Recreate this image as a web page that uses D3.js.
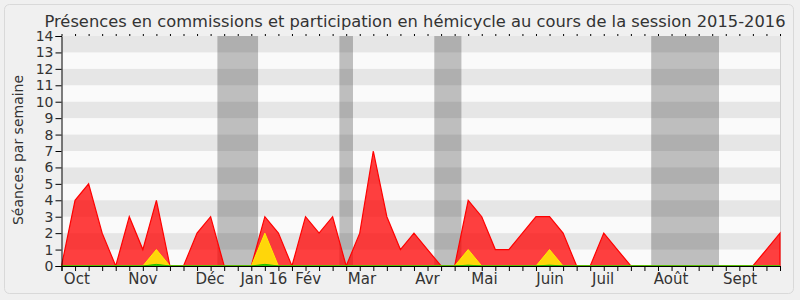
<!DOCTYPE html>
<html>
<head>
<meta charset="utf-8">
<script src="https://cdn.jsdelivr.net/npm/d3@7"></script>
<style>
  body { margin: 0; background: #f0f0f0; }
  svg { display: block; }
  text { font-family: "DejaVu Sans", sans-serif; fill: #333; }
</style>
</head>
<body>
<div id="chart"></div>
<script>
"use strict";

// one value per week, starting end of September 2015
const hemicycle = [0, 4, 5, 2, 0, 3, 1, 4, 0, 0, 2, 3, 0, 0, 0, 3, 2, 0, 3, 2, 3, 0, 2, 7, 3, 1, 2, 1, 0, 0, 4, 3, 1, 1, 2, 3, 3, 2, 0, 0, 2, 1, 0, 0, 0, 0, 0, 0, 0, 0, 0, 0, 1, 2];
const commission = [0, 0, 0, 0, 0, 0, 0, 1, 0, 0, 0, 0, 0, 0, 0, 2, 0, 0, 0, 0, 0, 0, 0, 0, 0, 0, 0, 0, 0, 0, 1, 0, 0, 0, 0, 0, 1, 0, 0, 0, 0, 0, 0, 0, 0, 0, 0, 0, 0, 0, 0, 0, 0, 0];
const questions = [0, 0, 0, 0, 0, 0, 0, 0.1, 0, 0, 0, 0, 0, 0, 0, 0.1, 0, 0, 0, 0, 0, 0, 0, 0, 0, 0, 0, 0, 0, 0, 0.05, 0, 0, 0, 0, 0, 0.05, 0, 0, 0, 0, 0, 0, 0, 0, 0, 0, 0, 0, 0, 0, 0, 0, 0];

// parliamentary holidays (week index)
const vacStart = [11.5, 20.5, 27.5, 43.5];
const vacEnd = [14.5, 21.5, 29.5, 48.5];

const monthLabels = ["Oct", "Nov", "Déc", "Jan 16", "Fév", "Mar", "Avr", "Mai", "Juin", "Juil", "Août", "Sept"];
const monthPos = [1.13, 6.0, 10.95, 14.93, 18.2, 22.16, 27.0, 31.2, 36.04, 39.95, 44.97, 50.06];

const W = 800;
const H = 300;
const pLeft = 61.5, pRight = 780, pTop = 36, pBottom = 266;

const svg = d3.select("#chart").append("svg")
  .attr("width", W)
  .attr("height", H);

svg.append("rect")
  .attr("x", 4.5).attr("y", 4.5)
  .attr("width", 789).attr("height", 289)
  .attr("rx", 5)
  .attr("fill", "#f0f0f0")
  .attr("stroke", "#d9d9d9");

const x = d3.scaleLinear().domain([0, hemicycle.length - 1]).range([pLeft, pRight]);
const y = d3.scaleLinear().domain([0, 14]).range([pBottom, pTop]);

// plot background
svg.append("rect")
  .attr("x", pLeft).attr("y", pTop)
  .attr("width", pRight - pLeft).attr("height", pBottom - pTop)
  .attr("fill", "#fafafa");

svg.selectAll(".vac")
  .data(vacStart)
  .enter()
  .append("rect")
  .attr("x", (d) => x(d))
  .attr("y", pTop)
  .attr("width", (d, i) => x(vacEnd[i]) - x(d))
  .attr("height", pBottom - pTop)
  .attr("fill", "#bebebe");

// grey stripes
svg.selectAll(".stripe")
  .data(d3.range(1, 14, 2))
  .enter()
  .append("rect")
  .attr("x", pLeft)
  .attr("y", (d) => y(d + 1))
  .attr("width", pRight - pLeft)
  .attr("height", (d) => y(d) - y(d + 1))
  .attr("fill", "#000")
  .attr("fill-opacity", 0.08);

svg.append("line")
  .attr("x1", pRight + 0.5).attr("x2", pRight + 0.5)
  .attr("y1", pTop).attr("y2", pBottom)
  .attr("stroke", "#d0d0d0");

const area = d3.area()
  .x((d, i) => x(i))
  .y0(y(0))
  .y1((d) => y(d));

svg.append("path")
  .datum(hemicycle)
  .attr("d", area)
  .attr("fill", "#ff0000")
  .attr("fill-opacity", 0.75)
  .attr("stroke", "#ff0000")
  .attr("stroke-width", 1.2);

svg.append("path")
  .datum(commission)
  .attr("d", area)
  .attr("fill", "#ffd60a")
  .attr("stroke", "#ffee00")
  .attr("stroke-width", 1);

svg.append("path")
  .datum(questions)
  .attr("d", area)
  .attr("fill", "#33dd00")
  .attr("stroke", "#22bb00")
  .attr("stroke-width", 1);

// axes
const yAxis = svg.append("g")
  .attr("transform", `translate(${pLeft},0)`)
  .call(d3.axisLeft(y).ticks(14).tickSize(6).tickPadding(2));
yAxis.selectAll("text").style("font-size", "14px").attr("fill", "#333");

const xAxis = svg.append("g")
  .attr("transform", `translate(0,${pBottom})`)
  .call(d3.axisBottom(x).tickValues(d3.range(0, hemicycle.length)).tickSize(5).tickFormat(""));

svg.append("g")
  .attr("transform", `translate(0,${pTop})`)
  .call(d3.axisTop(x).tickValues(d3.range(0, hemicycle.length)).tickSize(2).tickFormat(""))
  .select(".domain").remove();

svg.selectAll(".month")
  .data(monthLabels)
  .enter()
  .append("text")
  .attr("x", (d, i) => x(monthPos[i]))
  .attr("y", 284)
  .attr("text-anchor", "middle")
  .style("font-size", "15px")
  .text((d) => d);

svg.append("text")
  .attr("transform", `translate(23,150) rotate(-90)`)
  .attr("text-anchor", "middle")
  .style("font-size", "14px")
  .text("Séances par semaine");

svg.append("text")
  .attr("x", 415)
  .attr("y", 27)
  .attr("text-anchor", "middle")
  .style("font-size", "16.3px")
  .text("Présences en commissions et participation en hémicycle au cours de la session 2015-2016");
</script>
</body>
</html>
